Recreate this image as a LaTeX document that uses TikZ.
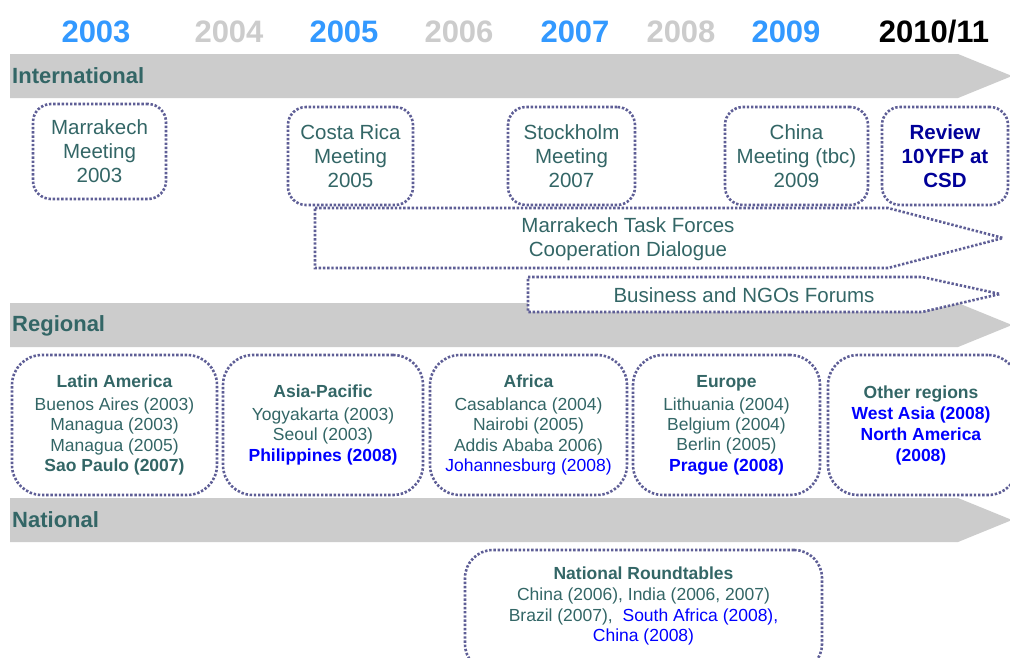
\documentclass[tikz,border=0pt]{standalone}
\usepackage{fontspec}
\setmainfont{Liberation Sans}
\definecolor{tealtx}{HTML}{336666}
\definecolor{yblue}{HTML}{3399FF}
\definecolor{ygrey}{HTML}{CCCCCC}
\definecolor{dotc}{HTML}{5E5E96}
\definecolor{hblue}{HTML}{0000FF}
\definecolor{navytx}{HTML}{000099}
\definecolor{bandc}{HTML}{CCCCCC}
\begin{document}
\begin{tikzpicture}[x=1pt,y=-1pt,
  yearlbl/.style={font=\fontsize{31}{31}\selectfont\bfseries, inner sep=0pt},
  bandlbl/.style={font=\fontsize{22}{22}\selectfont\bfseries, text=tealtx, anchor=west, inner sep=0pt},
  dotline/.style={draw=dotc, line width=2.6pt, dash pattern=on 2.4pt off 1.8pt},
  meetbox/.style={dotline, fill=white, rounded corners=18pt, inner sep=0pt, align=center,
     text=tealtx, font=\fontsize{20.5}{24}\selectfont},
  regbox/.style={dotline, fill=white, rounded corners=30pt, inner sep=0pt, align=center,
     text=tealtx, font=\fontsize{17.5}{20.3}\selectfont, minimum height=140pt},
  flowtxt/.style={align=center, text=tealtx, font=\fontsize{20.5}{24}\selectfont, inner sep=0pt},
  band/.style={fill=bandc, draw=none}
]
\useasboundingbox (0,0) rectangle (1010,657);
\fill[white] (0,0) rectangle (1010,657);

% years
\node[yearlbl, text=yblue] (y3) at (96,32) {2003};
\node[yearlbl, text=ygrey] (y4) at (229,32) {2004};
\node[yearlbl, text=yblue] (y5) at (344,32) {2005};
\node[yearlbl, text=ygrey] (y6) at (459,32) {2006};
\node[yearlbl, text=yblue] (y7) at (575,32) {2007};
\node[yearlbl, text=ygrey] (y8) at (681,32) {2008};
\node[yearlbl, text=yblue] (y9) at (786,32) {2009};
\node[yearlbl, text=black] (y10) at (934,32) {2010/11};

% bands
\path[band] (10,54) -- (958,54) -- (1012,76) -- (958,98) -- (10,98) -- cycle;
\path[band] (10,303) -- (958,303) -- (1012,325) -- (958,347) -- (10,347) -- cycle;
\path[band] (10,498) -- (958,498) -- (1012,520) -- (958,542) -- (10,542) -- cycle;
\node[bandlbl] (intl) at (12,76) {International};
\node[bandlbl] (regl) at (12,326) {Regional};
\node[bandlbl] (natl) at (12,520) {National};

% international meetings
\node[meetbox, minimum width=133pt, minimum height=95pt] (marr) at (99.5,151.5) {Marrakech\\Meeting\\2003};
\node[meetbox, minimum width=125pt, minimum height=98pt] (costa) at (350.5,156) {Costa Rica\\Meeting\\2005};
\node[meetbox, minimum width=127pt, minimum height=98pt] (stock) at (571.5,156) {Stockholm\\Meeting\\2007};
\node[meetbox, minimum width=143pt, minimum height=98pt] (china) at (796.5,156) {China\\Meeting (tbc)\\2009};
\node[meetbox, minimum width=126pt, minimum height=98pt, text=navytx, font=\fontsize{20.5}{24}\selectfont\bfseries] (review) at (945,156) {Review\\10YFP at\\CSD};

% task forces
\draw[dotline, fill=white] (315,208) -- (888,208) -- (1003,238) -- (888,268) -- (315,268) -- cycle;
\node[flowtxt] (mtf) at (628,239) {Marrakech Task Forces\\Cooperation Dialogue};
\draw[dotline, fill=white] (528,277) -- (922,277) -- (1000,294) -- (922,312) -- (528,312) -- cycle;
\node[flowtxt] (bngo) at (744,295) {Business and NGOs Forums};

% regional boxes
\node[regbox, minimum width=205pt] (latam) at (114.5,425) {\textbf{Latin America}\\[2.5pt]Buenos Aires (2003)\\Managua (2003)\\Managua (2005)\\\textbf{Sao Paulo (2007)}};
\node[regbox, minimum width=200pt] (asia) at (323,425) {\textbf{Asia-Pacific}\\[2.5pt]Yogyakarta (2003)\\Seoul (2003)\\\textcolor{hblue}{\textbf{Philippines (2008)}}};
\node[regbox, minimum width=197pt] (africa) at (528.5,425) {\textbf{Africa}\\[2.5pt]Casablanca (2004)\\Nairobi (2005)\\Addis Ababa 2006)\\\textcolor{hblue}{Johannesburg (2008)}};
\node[regbox, minimum width=187pt] (europe) at (726.5,425) {\textbf{Europe}\\[2.5pt]Lithuania (2004)\\Belgium (2004)\\Berlin (2005)\\\textcolor{hblue}{\textbf{Prague (2008)}}};
\node[regbox, minimum width=190pt] (other) at (923,425) {};
\node[align=center, text=tealtx, font=\fontsize{17.5}{21}\selectfont, inner sep=0pt] (othertxt) at (921,425) {\textbf{Other regions}\\\textcolor{hblue}{\textbf{West Asia (2008)}}\\\textcolor{hblue}{\textbf{North America}}\\\textcolor{hblue}{\textbf{(2008)}}};

% national
\node[dotline, fill=white, rounded corners=28pt, minimum width=357pt, minimum height=122pt] (natbox) at (643.5,611) {};
\node[align=center, text=tealtx, font=\fontsize{17.5}{20.3}\selectfont, inner sep=0pt] (nattxt) at (643.5,606) {\textbf{National Roundtables}\\[1pt]China (2006), India (2006, 2007)\\Brazil (2007),\ \ \textcolor{hblue}{South Africa (2008),}\\\textcolor{hblue}{China (2008)}};
\end{tikzpicture}
\end{document}
